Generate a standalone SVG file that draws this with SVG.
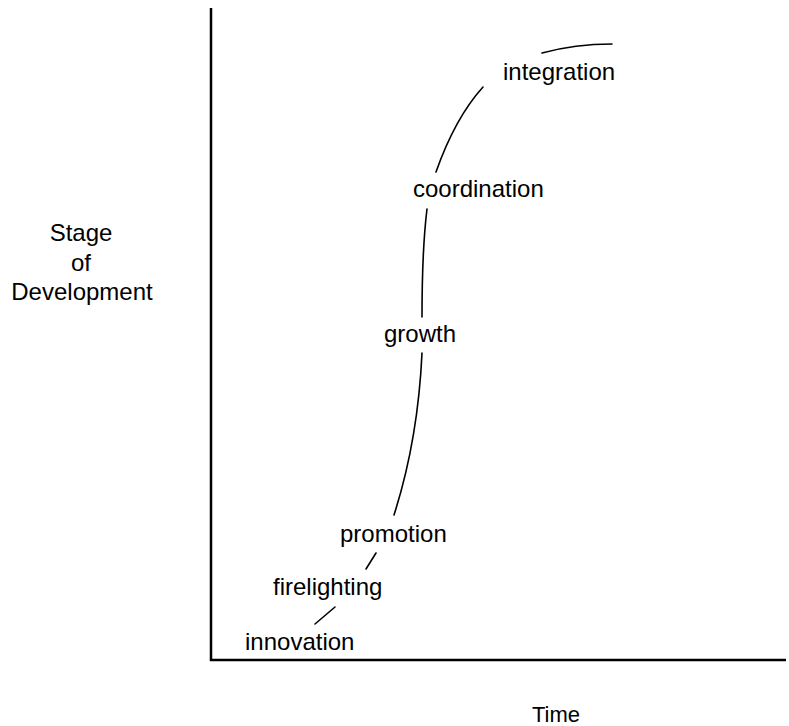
<svg xmlns="http://www.w3.org/2000/svg" width="789" height="726" viewBox="0 0 789 726">
<style>
text{font-family:"Liberation Sans",Arial,sans-serif;font-size:24px;fill:#000}
.ax{stroke:#000;stroke-width:2.5;fill:none}
.cv{stroke:#000;stroke-width:1.6;fill:none;stroke-linecap:round}
</style>
<rect width="789" height="726" fill="#fff"/>
<g id="axes">
<path class="ax" d="M211,8 L211,660 L786,660"/>
</g>
<g id="axis-labels">
<text x="81" y="241" text-anchor="middle">Stage</text>
<text x="81" y="271" text-anchor="middle">of</text>
<text x="82" y="300" text-anchor="middle">Development</text>
<text x="532" y="722" style="font-size:22px">Time</text>
</g>
<g id="connectors">
<path class="cv" d="M315,624 L335,607"/>
<path class="cv" d="M366,569 L376,553"/>
<path class="cv" d="M394,515 Q418,440 422,353"/>
<path class="cv" d="M422,317 Q422,250 427,209"/>
<path class="cv" d="M436,172 Q455,118 483,87"/>
<path class="cv" d="M542,53 Q575,44 612,44"/>
</g>
<g id="innovation"><text x="245" y="650">innovation</text></g>
<g id="firelighting"><text x="273" y="595">firelighting</text></g>
<g id="promotion"><text x="340" y="542">promotion</text></g>
<g id="growth"><text x="384" y="342">growth</text></g>
<g id="coordination"><text x="413" y="197">coordination</text></g>
<g id="integration"><text x="503" y="80">integration</text></g>
</svg>
